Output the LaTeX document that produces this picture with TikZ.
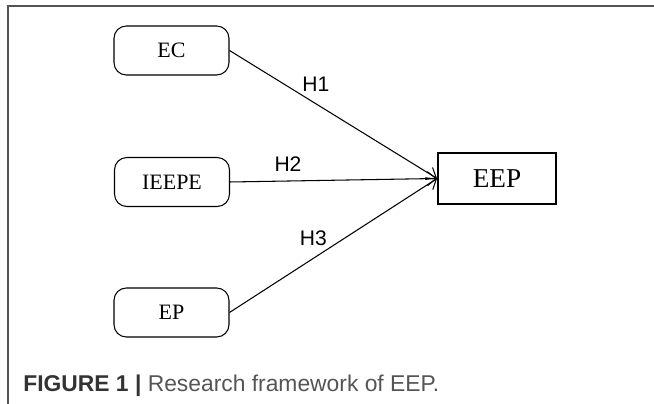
\documentclass[tikz,border=0pt]{standalone}
\usepackage{fontspec}
\setmainfont{Liberation Serif}
\setsansfont{Liberation Sans}
\usepackage{xcolor}
\usetikzlibrary{arrows.meta, positioning}
\definecolor{framegray}{HTML}{555555}
\definecolor{capdark}{HTML}{333333}
\definecolor{capgray}{HTML}{555555}

\begin{document}
\begin{tikzpicture}[
    x=0.02cm, y=-0.02cm,
    var/.style={
        draw, rounded corners=7pt, line width=0.6pt,
        minimum width=2.3cm, minimum height=0.98cm,
        inner sep=2pt, align=center, font=\fontsize{12.5}{14}\selectfont
    },
    outc/.style={
        draw, line width=1.1pt,
        minimum width=2.36cm, minimum height=1.02cm,
        inner sep=2pt, font=\fontsize{15.5}{18}\selectfont
    },
    arr/.style={-{Straight Barb[length=5pt, width=8pt]}, line width=0.6pt},
    hyp/.style={font=\sffamily\fontsize{12}{14}\selectfont, inner sep=1pt}
]
\useasboundingbox (0,0) rectangle (654,404);

% Frame of the figure panel
\draw[framegray, line width=0.7pt] (8,404) |- (654,6);

% Nodes: three predictors on the left, outcome on the right
\node[var]  (EC)    at (171.5,50.5)  {EC};
\node[var]  (IEEPE) at (172,182)     {IEEPE};
\node[var]  (EP)    at (171.5,312.5) {EP};
\node[outc] (EEP)   at (497,178.5)   {EEP};

% Hypothesised paths
\draw[arr] (EC.east)    -- node[hyp, pos=0.34, anchor=south west] {H1} (EEP.west);
\draw[arr] (IEEPE.east) -- node[hyp, pos=0.28, above=4pt] {H2} (EEP.west);
\draw[arr] (EP.east)    -- node[hyp, pos=0.48, anchor=south east] {H3} (EEP.west);

% Caption
\node[anchor=base west, inner sep=0pt, font=\sffamily\fontsize{13}{15}\selectfont] (cap) at (23,392)
    {\textcolor{capdark}{\textbf{FIGURE 1 |}} \textcolor{capgray}{Research framework of EEP.}};
\end{tikzpicture}
\end{document}
